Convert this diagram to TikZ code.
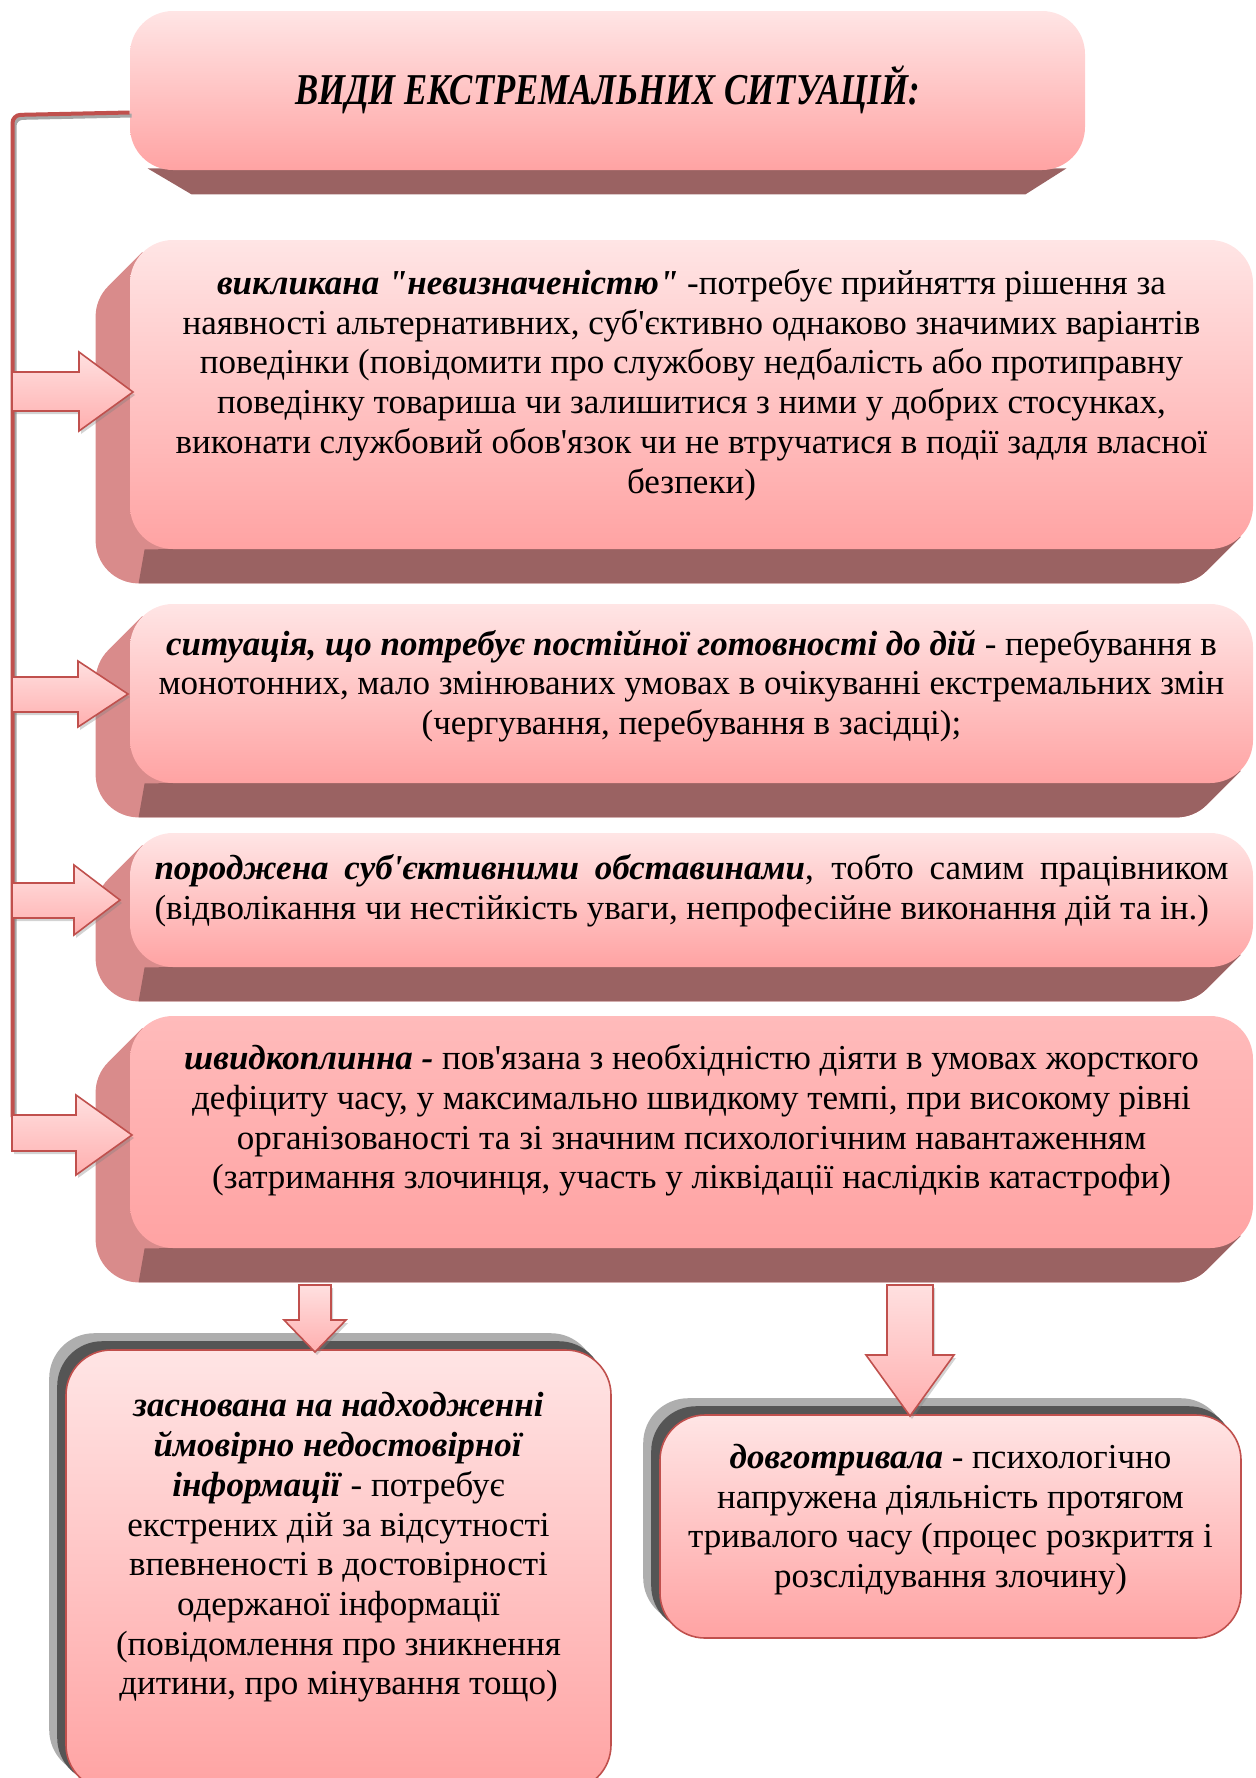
\documentclass[tikz,border=0pt]{standalone}
\usepackage{fontspec}
\usepackage{graphicx}
\setmainfont[Ligatures=TeXOff]{Liberation Serif}
\usetikzlibrary{calc, positioning, backgrounds, shadows}
\definecolor{facetop}{HTML}{FFE5E5}
\definecolor{facebot}{HTML}{FFA3A3}
\definecolor{facetopdeep}{HTML}{FFBBBB}
\definecolor{sidered}{HTML}{D98B8B}
\definecolor{basered}{HTML}{9A6262}
\definecolor{linered}{HTML}{C0504D}
\definecolor{arrowtop}{HTML}{FFE0E0}
\definecolor{arrowbot}{HTML}{FFAFAF}
\definecolor{shadowlight}{HTML}{AEAEAE}
\definecolor{shadowdark}{HTML}{555555}

\begin{document}
\begin{tikzpicture}[x=0.5pt, y=-0.5pt,
  face/.style={rectangle, rounded corners=21.5pt, inner sep=0pt, top color=facetop, bottom color=facebot},
  leaf/.style={face, draw=linered, line width=0.8pt, rounded corners=22.5pt},
  txt/.style={inner sep=0pt, align=center, font=\fontsize{17.5}{19.85}\selectfont},
  sideface/.style={fill=sidered},
  baseface/.style={fill=basered},
  blockarrow/.style={draw=linered, line width=0.8pt, top color=arrowtop, bottom color=arrowbot, drop shadow={shadow xshift=1pt, shadow yshift=-1.5pt, opacity=0.35}},
  bus/.style={draw=linered, line width=2pt, rounded corners=4pt}
]
  \useasboundingbox (0,0) rectangle (1255,1778);
  \clip (0,0) rectangle (1255,1778);

  % Boxes
  \node[face, minimum width=477.5pt, minimum height=79.5pt] (title) at (607.5,90.5) {};
  \node[face, minimum width=561.5pt, minimum height=154.5pt] (b1) at (691.5,394.5) {};
  \node[face, minimum width=561.5pt, minimum height=89.5pt] (b2) at (691.5,693.5) {};
  \node[face, minimum width=561.5pt, minimum height=67pt] (b3) at (691.5,900) {};
  \node[face, top color=facetopdeep, minimum width=561.5pt, minimum height=116pt] (b4) at (691.5,1132) {};
  \node[leaf, minimum width=272.5pt, minimum height=220pt] (bl) at (338.5,1570) {};
  \node[leaf, minimum width=290.5pt, minimum height=111.5pt] (br) at (950.5,1526.5) {};

  % Texts
  \node[txt] (t0) at ($(title)+(0,-1)$) {\fontsize{22}{26}\selectfont\bfseries\itshape\scalebox{0.79}[1]{ВИДИ ЕКСТРЕМАЛЬНИХ СИТУАЦІЙ:}};
  \node[txt] (t1) at ($(b1)+(0,-9.5)$) {\textbf{\textit{викликана "невизначеністю"}} -потребує прийняття рішення за\\наявності альтернативних, суб'єктивно однаково значимих варіантів\\поведінки (повідомити про службову недбалість або протиправну\\поведінку товариша чи залишитися з ними у добрих стосунках,\\виконати службовий обов'язок чи не втручатися в події задля власної\\безпеки)};
  \node[txt] (t2) at ($(b2)+(0,-7.5)$) {\textbf{\textit{ситуація, що потребує постійної готовності до дій}} - перебування в\\монотонних, мало змінюваних умовах в очікуванні екстремальних змін\\(чергування, перебування в засідці);};
  \node[txt, align=left] (t3) at ($(b3)+(0,-9)$) {\makebox[537pt][s]{\textbf{\textit{породжена суб'єктивними обставинами}}, тобто самим працівником}\\(відволікання чи нестійкість уваги, непрофесійне виконання дій та ін.)};
  \node[txt] (t4) at ($(b4)+(0,-11.5)$) {\textbf{\textit{швидкоплинна -}} пов'язана з необхідністю діяти в умовах жорсткого\\дефіциту часу, у максимально швидкому темпі, при високому рівні\\організованості та зі значним психологічним навантаженням\\(затримання злочинця, участь у ліквідації наслідків катастрофи)};
  \node[txt, below=21.5pt of bl.north] (t5) {\textbf{\textit{заснована на надходженні}}\\\textbf{\textit{ймовірно недостовірної}}\\\textbf{\textit{інформації}} - потребує\\екстрених дій за відсутності\\впевненості в достовірності\\одержаної інформації\\(повідомлення про зникнення\\дитини, про мінування тощо)};
  \node[txt] (t6) at ($(br)+(0,-7)$) {\textbf{\textit{довготривала}} - психологічно\\напружена діяльність протягом\\тривалого часу (процес розкриття і\\розслідування злочину)};

  % 3D slabs and shadows
  \begin{scope}[on background layer]
    \foreach \bx in {b1,b2,b3,b4} {
      \fill[sideface] ($(\bx.north west)+(12.6,12.6)$) -- ++(-34,34)
        arc[start angle=225, end angle=180, radius=43]
        -- ($(\bx.south west)+(-34,-9)$) arc[start angle=180, end angle=90, radius=43]
        -- ($(\bx.south east)+(-77,34)$) arc[start angle=90, end angle=45, radius=43]
        -- ($(\bx.south east)+(-12.6,-12.6)$) -- cycle;
      \fill[baseface] ($(\bx.south west)+(15,0)$) -- ($(\bx.south east)+(-12.6,-12.6)$) -- ++(-34,34)
        arc[start angle=45, end angle=90, radius=43]
        -- ($(\bx.south west)+(9,34)$) -- cycle;
    }
    \fill[baseface] ($(title.south west)+(18,-2)$) -- ($(title.south east)+(-19,-2)$)
      -- ($(title.south east)+(-60,24)$) -- ($(title.south west)+(62,24)$) -- cycle;
    \foreach \bx in {bl,br} {
      \fill[shadowlight, rounded corners=22.5pt] ($(\bx.north west)+(-16,-16)$) rectangle ($(\bx.south east)+(-16,-16)$);
      \fill[shadowdark, rounded corners=22.5pt] ($(\bx.north west)+(-8,-8)$) rectangle ($(\bx.south east)+(-8,-8)$);
    }
  \end{scope}

  % Connector line
  \coordinate (busTop) at (12.5,115);
  \coordinate (busEnd) at (12.5,1117);
  \draw[bus, gray!70, transform canvas={xshift=1pt, yshift=-1.5pt}] ($(title.west)+(0,22)$) -- (busTop) -- (busEnd);
  \draw[bus] ($(title.west)+(0,22)$) -- (busTop) -- (busEnd);

  % Block arrows to the boxes
  \draw[blockarrow] (12,372) -- (79,372) -- (79,352) -- (133,392) -- (79,431) -- (79,411) -- (12,411) -- cycle;
  \draw[blockarrow] (12,677) -- (78,677) -- (78,661) -- (128,694) -- (78,727) -- (78,712) -- (12,712) -- cycle;
  \draw[blockarrow] (12,883) -- (74,883) -- (74,865) -- (120,900) -- (74,935) -- (74,918) -- (12,918) -- cycle;
  \draw[blockarrow] (12,1115) -- (76,1115) -- (76,1095) -- (132,1135) -- (76,1175) -- (76,1151) -- (12,1151) -- cycle;

  % Arrows down
  \draw[blockarrow] (299,1285) -- (331,1285) -- (331,1320) -- (346,1320) -- (315,1352) -- (284,1320) -- (299,1320) -- cycle;
  \draw[blockarrow] (887,1285) -- (933,1285) -- (933,1355) -- (954,1355) -- (910,1416) -- (866,1355) -- (887,1355) -- cycle;
\end{tikzpicture}
\end{document}
